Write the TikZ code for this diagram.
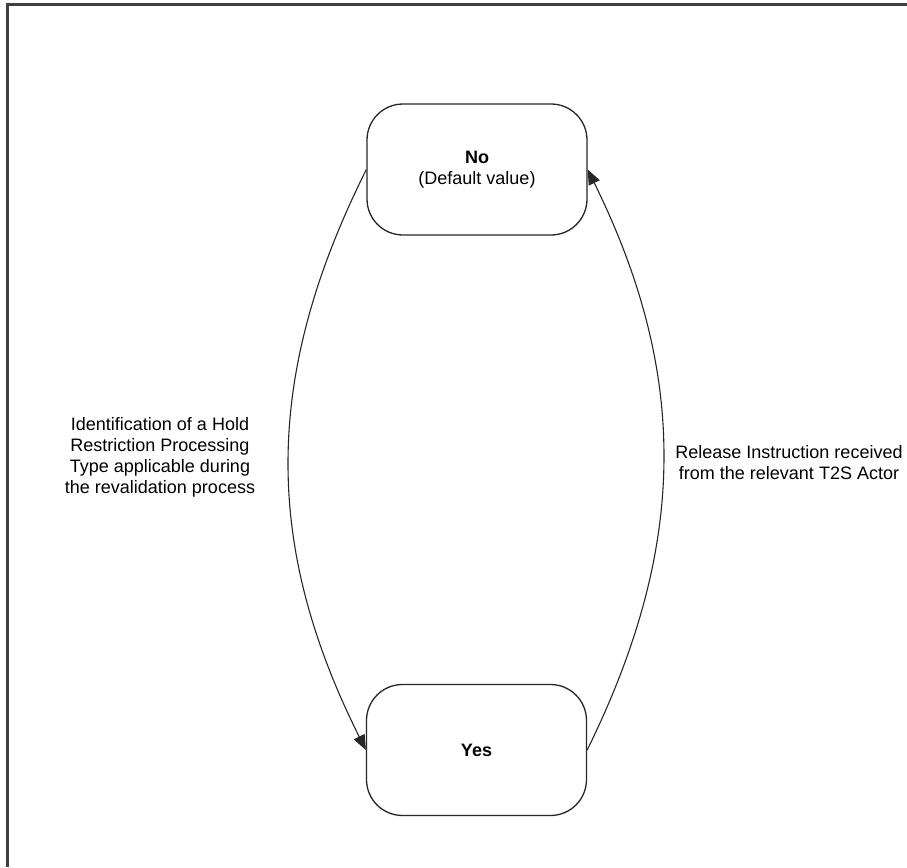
\documentclass[tikz,border=0pt]{standalone}
\usepackage{fontspec}
\setmainfont{Liberation Sans}
\usetikzlibrary{arrows.meta}
\tikzset{
  statebox/.style={draw=black!85, line width=1.3pt, rounded corners=36pt, minimum width=220pt, minimum height=131pt, inner sep=0pt, align=center, font=\fontsize{18}{21}\selectfont},
  lbl/.style={align=center, font=\fontsize{18}{21}\selectfont, inner sep=0pt},
  conn/.style={draw=black!85, line width=1.1pt, -{Triangle[length=15pt,width=12pt]}}
}
\begin{document}
\begin{tikzpicture}[x=1pt,y=-1pt]
\useasboundingbox (0,0) rectangle (907,867);
\draw[line width=3pt, black!75] (907,5) -- (7,5) -- (7,867);
\node[statebox] (no) at (477,169.5) {\textbf{No}\\(Default value)};
\node[statebox] (yes) at (476.5,750) {\textbf{Yes}};
\draw[conn] (no.west) .. controls +(-103,206) and +(-103,-206) .. (yes.west);
\draw[conn] (yes.east) .. controls +(101,-205) and +(101,205) .. (no.east);
\node[lbl] (l1) at (160,457) {Identification of a Hold\\Restriction Processing\\Type applicable during\\the revalidation process};
\node[lbl] (l2) at (789,463) {Release Instruction received\\from the relevant T2S Actor};
\end{tikzpicture}
\end{document}
